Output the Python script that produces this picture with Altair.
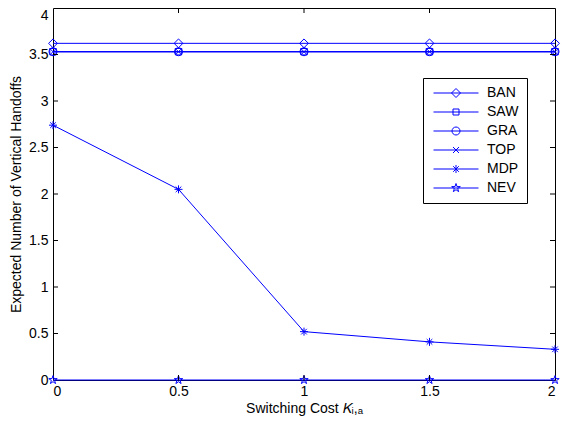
import altair as alt
import pandas as pd

# ---- data ----
switching_cost = [0, 0.5, 1, 1.5, 2]
series_names = ["BAN", "SAW", "GRA", "TOP", "MDP", "NEV"]
ban = [3.62, 3.62, 3.62, 3.62, 3.62]
saw = [3.53, 3.53, 3.53, 3.53, 3.53]
gra = [3.53, 3.53, 3.53, 3.53, 3.53]
top = [3.53, 3.53, 3.53, 3.53, 3.53]
mdp = [2.74, 2.05, 0.52, 0.41, 0.33]
nev = [0, 0, 0, 0, 0]
x_ticks = [0, 0.5, 1, 1.5, 2]
y_ticks = [0, 0.5, 1, 1.5, 2, 2.5, 3, 3.5, 4]
x_inner_ticks = [0.5, 1, 1.5]
y_inner_ticks = [0.5, 1, 1.5, 2, 2.5, 3, 3.5]

values = {"BAN": ban, "SAW": saw, "GRA": gra, "TOP": top, "MDP": mdp, "NEV": nev}
rows = []
for name in series_names:
    for xv, yv in zip(switching_cost, values[name]):
        rows.append({"series": name, "x": xv, "y": yv})
df = pd.DataFrame(rows)

BLUE = "#0000ff"
FONT = "Liberation Sans"
FS = 14
W, H = 502, 372

# marker paths (unit box)
diamond = "M0,-1.1L1.1,0L0,1.1L-1.1,0Z"
square = "M-0.8,-0.8L0.8,-0.8L0.8,0.8L-0.8,0.8Z"
circle = "M1,0A1,1,0,1,1,-1,0A1,1,0,1,1,1,0Z"
xmark = "M-0.8,-0.8L0.8,0.8M-0.8,0.8L0.8,-0.8"
aster = "M-1,0L1,0M0,-1L0,1M-0.7,-0.7L0.7,0.7M-0.7,0.7L0.7,-0.7"
star = ("M0,-1.1L0.25,-0.34L1.05,-0.34L0.4,0.13L0.65,0.89L0,0.42"
        "L-0.65,0.89L-0.4,0.13L-1.05,-0.34L-0.25,-0.34Z")
marker_paths = [diamond, square, circle, xmark, aster, star]

# legend symbols: a 45px line with the marker on it (symbol size 100 -> 5px per unit)
legend_paths = [
    "M-4.5,0L4.5,0" + "M0,-0.9L0.9,0L0,0.9L-0.9,0Z",
    "M-4.5,0L4.5,0" + "M-0.6,-0.6L0.6,-0.6L0.6,0.6L-0.6,0.6Z",
    "M-4.5,0L4.5,0" + "M0.8,0A0.8,0.8,0,1,1,-0.8,0A0.8,0.8,0,1,1,0.8,0Z",
    "M-4.5,0L4.5,0" + "M-0.6,-0.6L0.6,0.6M-0.6,0.6L0.6,-0.6",
    "M-4.5,0L4.5,0" + "M0,-0.8L0,0.8M-0.56,-0.56L0.56,0.56M-0.56,0.56L0.56,-0.56",
    "M-4.5,0L4.5,0" + ("M0,-0.9L0.2,-0.28L0.86,-0.28L0.33,0.1L0.53,0.73L0,0.34"
                        "L-0.53,0.73L-0.33,0.1L-0.86,-0.28L-0.2,-0.28Z"),
]

xscale = alt.Scale(domain=[0, 2], nice=False, zero=False)
yscale = alt.Scale(domain=[0, 4], nice=False, zero=False)
x_axis = alt.Axis(values=x_ticks, format="~g", title="Switching Cost 𝐾ᵢ,ₐ",
                  labelPadding=4, titlePadding=3)
y_axis = alt.Axis(
    values=y_ticks, format="~g",
    title="Expected Number of Vertical Handoffs",
    labelPadding=5, titlePadding=5,
    labelBaseline={"condition": {"test": "datum.value == 4", "value": "top"},
                   "value": "middle"},
)


def xe():
    return alt.X("x:Q", scale=xscale, axis=x_axis)


def ye():
    return alt.Y("y:Q", scale=yscale, axis=y_axis)


base = alt.Chart(df)

lines = base.mark_line(color=BLUE, strokeWidth=1).encode(
    x=xe(), y=ye(), detail="series:N", order="x:Q"
)

points = base.mark_point(filled=False, color=BLUE, strokeWidth=1, size=64, opacity=1).encode(
    x=xe(),
    y=ye(),
    shape=alt.Shape("series:N", scale=alt.Scale(domain=series_names, range=marker_paths),
                    legend=None),
)

legend_layer = base.mark_point(filled=False, color=BLUE, strokeWidth=1, opacity=0).encode(
    x=xe(),
    y=ye(),
    shape=alt.Shape(
        "series:N",
        scale=alt.Scale(domain=series_names, range=legend_paths),
        legend=alt.Legend(
            title=None,
            orient="none",
            legendX=370,
            legendY=70,
            strokeColor="black",
            fillColor="white",
            padding=8,
            symbolSize=100,
            symbolOffset=18,
            labelOffset=24,
            rowPadding=5,
            symbolStrokeWidth=1,
            symbolOpacity=1,
            labelFont=FONT,
            labelFontSize=FS,
            labelColor="black",
        ),
    ),
)

ydf = pd.DataFrame({"y": y_inner_ticks})
xdf = pd.DataFrame({"x": x_inner_ticks})
tick_y_left = alt.Chart(ydf).mark_rule(color="black", strokeWidth=1).encode(
    y=ye(), x=alt.value(0), x2=alt.value(5)
)
tick_y_right = alt.Chart(ydf).mark_rule(color="black", strokeWidth=1).encode(
    y=ye(), x=alt.value(W - 5), x2=alt.value(W)
)
tick_x_bottom = alt.Chart(xdf).mark_rule(color="black", strokeWidth=1).encode(
    x=xe(), y=alt.value(H - 5), y2=alt.value(H)
)
tick_x_top = alt.Chart(xdf).mark_rule(color="black", strokeWidth=1).encode(
    x=xe(), y=alt.value(0), y2=alt.value(5)
)

chart = (
    alt.layer(lines, points, legend_layer, tick_y_left, tick_y_right, tick_x_bottom, tick_x_top)
    .resolve_scale(shape="independent")
    .properties(
        width=W,
        height=H,
        autosize=alt.AutoSizeParams(type="none"),
        padding={"left": 45, "top": 0, "right": 9, "bottom": 36},
        background="white",
    )
    .configure_view(stroke="black", strokeWidth=1)
    .configure_axis(
        domain=False,
        ticks=False,
        grid=False,
        labelFont=FONT,
        titleFont=FONT,
        labelFontSize=FS,
        titleFontSize=FS,
        titleFontWeight="normal",
        labelColor="black",
        titleColor="black",
    )
)

chart.save("out.html", embed_options={"renderer": "svg", "actions": False})
